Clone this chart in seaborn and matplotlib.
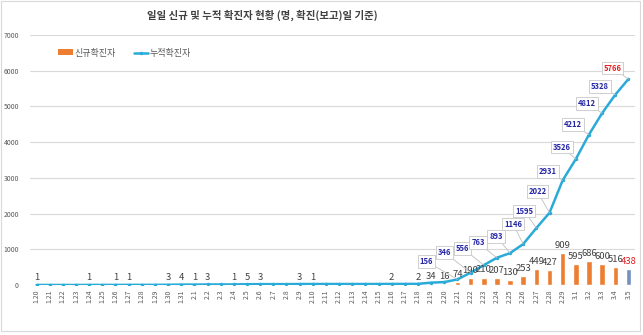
import numpy as np
import pandas as pd
import seaborn as sns
import matplotlib
matplotlib.use("Agg")
import matplotlib.pyplot as plt
from matplotlib.patches import Rectangle, Patch
from matplotlib.lines import Line2D

dates = ["1.20", "1.21", "1.22", "1.23", "1.24", "1.25", "1.26", "1.27", "1.28", "1.29", "1.30", "1.31",
         "2.1", "2.2", "2.3", "2.4", "2.5", "2.6", "2.7", "2.8", "2.9", "2.10", "2.11", "2.12", "2.13",
         "2.14", "2.15", "2.16", "2.17", "2.18", "2.19", "2.20", "2.21", "2.22", "2.23", "2.24", "2.25",
         "2.26", "2.27", "2.28", "2.29", "3.1", "3.2", "3.3", "3.4", "3.5"]
daily = [1, 0, 0, 0, 1, 0, 1, 1, 0, 0, 3, 4,
         1, 3, 0, 1, 5, 3, 0, 0, 3, 1, 0, 0, 0,
         0, 0, 2, 0, 2, 34, 16, 74, 190, 210, 207, 130,
         253, 449, 427, 909, 595, 686, 600, 516, 438]
cumulative = [1, 1, 1, 1, 2, 2, 3, 4, 4, 4, 7, 11,
              12, 15, 15, 16, 21, 24, 24, 24, 27, 28, 28, 28, 28,
              28, 28, 30, 30, 32, 66, 82, 156, 346, 556, 763, 893,
              1146, 1595, 2022, 2931, 3526, 4212, 4812, 5328, 5766]
cum_label_dates = ["2.21", "2.22", "2.23", "2.24", "2.25", "2.26", "2.27", "2.28", "2.29",
                   "3.1", "3.2", "3.3", "3.4", "3.5"]
title = "일일 신규 및 누적 확진자 현황 (명, 확진(보고)일 기준)"
legend_labels = ["신규확진자", "누적확진자"]

# label offsets in pixels (style only)
cum_offsets = [(-31, 18), (-26, 20), (-21, 17), (-19, 15), (-14, 17), (-10, 20), (-12, 17),
               (-12, 21), (-15, 9), (-14, 12), (-16, 10), (-15, 10), (-15, 8), (-16, 11)]

sns.set_theme(style="white")
plt.rcParams['font.family'] = ['Noto Sans CJK KR', 'DejaVu Sans']

ORANGE = "#ED7D31"
BLUE = "#2AAAD8"
LAST = "#7391BD"

fig = plt.figure(figsize=(6.43, 3.35), dpi=100)
ax = fig.add_axes([30 / 643, 1 - 285 / 335, 605 / 643, 250 / 335])

df = pd.DataFrame({"date": dates, "daily": daily, "cum": cumulative})
colors = [ORANGE] * (len(dates) - 1) + [LAST]
sns.barplot(data=df, x="date", y="daily", hue="date", palette=colors, legend=False,
            width=0.42, ax=ax, order=dates, saturation=1)
sns.lineplot(x=np.arange(len(dates)), y=df["cum"].values, ax=ax, color=BLUE, lw=1.8,
             marker="o", markersize=2.5, markeredgewidth=0, zorder=3)

ax.set_xlim(-0.5, len(dates) - 0.5)
ax.set_ylim(0, 7000)
ax.set_yticks(range(0, 7001, 1000))
ax.yaxis.grid(True, color="#D9D9D9", lw=0.8)
ax.set_axisbelow(True)
for s in ax.spines.values():
    s.set_visible(False)
ax.set_xlabel("")
ax.set_ylabel("")
ax.tick_params(axis="y", labelsize=5, colors="#595959", length=0, pad=8)
ax.tick_params(axis="x", labelsize=5, colors="#595959", length=0, pad=3, rotation=90)

# daily labels
for i, v in enumerate(daily):
    if v > 0:
        c = "#E02020" if i == len(daily) - 1 else "#404040"
        ax.annotate(str(v), xy=(i, v), xytext=(0, 3), textcoords="offset pixels",
                    ha="center", va="bottom", fontsize=6.8, color=c)

# cumulative labels
for d, (dx, dy) in zip(cum_label_dates, cum_offsets):
    i = dates.index(d)
    v = cumulative[i]
    c = "#E02020" if d == dates[-1] else "#2626A8"
    ax.annotate(str(v), xy=(i, v), xytext=(dx, dy), textcoords="offset pixels",
                ha="center", va="center", fontsize=5.5, color=c, fontweight="bold",
                bbox=dict(boxstyle="square,pad=0.25", fc="white", ec="#C8C8C8", lw=0.6),
                arrowprops=dict(arrowstyle="-", color="#BFBFBF", lw=0.6, shrinkA=0, shrinkB=0),
                zorder=4)

fig.text(262 / 643, 1 - 15 / 335, title, ha="center", va="center", fontsize=7.5,
         color="#404040", fontweight="bold")

handles = [Patch(facecolor=ORANGE, edgecolor="none"),
           Line2D([0], [0], color=BLUE, lw=1.8, marker="o", markersize=2.5, markeredgewidth=0)]
fig.legend(handles, legend_labels, loc="center left", bbox_to_anchor=(50 / 643, 1 - 53 / 335),
           ncol=2, frameon=False, fontsize=6.5, handlelength=1.6, handleheight=0.6,
           columnspacing=2.0, handletextpad=0.2, labelcolor="#595959")

fig.patches.append(Rectangle((0.002, 0.012), 0.994, 0.985, transform=fig.transFigure,
                             fill=False, edgecolor="#D9D9D9", lw=0.8))

fig.savefig("out.png", dpi=100)
